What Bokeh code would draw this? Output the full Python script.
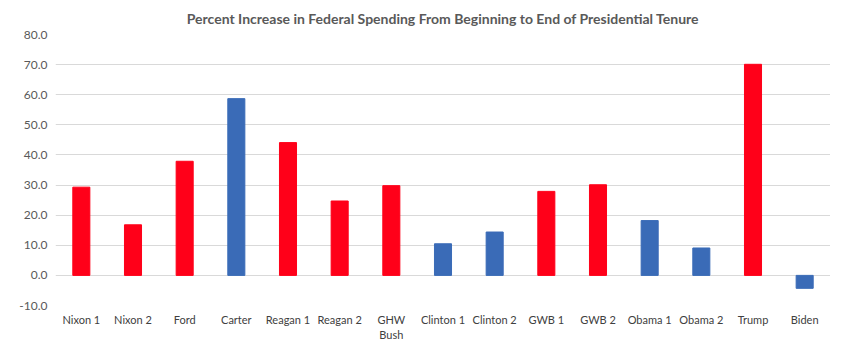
from bokeh.plotting import figure
from bokeh.models import FactorRange, Range1d, ColumnDataSource, FixedTicker, PrintfTickFormatter
from bokeh.embed import file_html
from bokeh.resources import INLINE

categories = ["Nixon 1", "Nixon 2", "Ford", "Carter", "Reagan 1", "Reagan 2", "GHW\nBush",
              "Clinton 1", "Clinton 2", "GWB 1", "GWB 2", "Obama 1", "Obama 2", "Trump", "Biden"]
values = [29.3, 16.8, 37.9, 58.7, 44.1, 24.7, 29.8, 10.5, 14.4, 27.9, 30.1, 18.2, 9.1, 70.1, -4.3]
party = ["R", "R", "R", "D", "R", "R", "R", "D", "D", "R", "R", "D", "D", "R", "D"]
y_ticks = [-10, 0, 10, 20, 30, 40, 50, 60, 70, 80]

RED = "#FF0019"
BLUE = "#3A6BB7"
colors = [RED if p == "R" else BLUE for p in party]

src = ColumnDataSource(dict(cat=categories, val=values, color=colors))

p = figure(x_range=FactorRange(factors=categories, range_padding=0),
           y_range=Range1d(-10, 80),
           width=830, height=344, output_backend="svg", toolbar_location=None,
           title="Percent Increase in Federal Spending From Beginning to End of Presidential Tenure",
           min_border_left=55, min_border_right=0, min_border_top=0, min_border_bottom=0)

p.vbar(x="cat", top="val", bottom=0, width=0.33, color="color", source=src)

p.title.align = "center"
p.title.text_font = "Lato"
p.title.text_font_style = "bold"
p.title.text_font_size = "14px"
p.title.text_color = "#595959"
p.title.standoff = 15
p.title.offset = -21

p.outline_line_color = None
p.background_fill_color = "white"
p.border_fill_color = "white"

p.xgrid.grid_line_color = None
p.ygrid.grid_line_color = "#d9d9d9"
p.ygrid.grid_line_width = 1

p.yaxis.ticker = FixedTicker(ticks=y_ticks)
p.yaxis.formatter = PrintfTickFormatter(format="%.1f")
p.yaxis.axis_line_color = None
p.yaxis.major_tick_line_color = None
p.yaxis.minor_tick_line_color = None
p.yaxis.major_label_text_font = "Lato"
p.yaxis.major_label_text_font_size = "12px"
p.yaxis.major_label_text_color = "#595959"
p.yaxis.major_label_standoff = 2

p.xaxis.axis_line_color = None
p.xaxis.major_tick_line_color = None
p.xaxis.minor_tick_line_color = None
p.xaxis.major_label_text_font = "Lato"
p.xaxis.major_label_text_font_size = "11px"
p.xaxis.major_label_text_color = "#404040"
p.xaxis.major_label_standoff = 1

open("out.html", "w").write(file_html(p, INLINE))
